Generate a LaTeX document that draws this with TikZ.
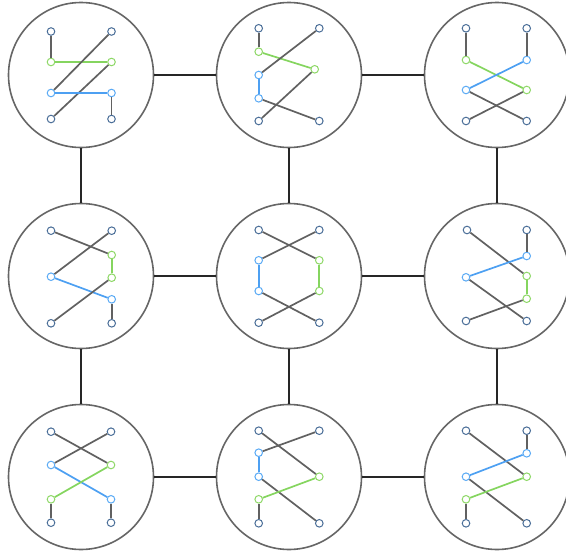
\documentclass[tikz,border=0pt]{standalone}
\begin{document}
\begin{tikzpicture}[x=1pt,y=-1pt,
  big/.style={circle,draw=black!60,line width=1.6pt,minimum size=145pt,inner sep=0pt},
  dk/.style={circle,draw=darkpt,fill=white,line width=1pt,minimum size=7.6pt,inner sep=0pt},
  gn/.style={circle,draw=greenpt,fill=white,line width=1pt,minimum size=7.6pt,inner sep=0pt},
  bl/.style={circle,draw=bluept,fill=white,line width=1pt,minimum size=7.6pt,inner sep=0pt},
  gl/.style={draw=black!62,line width=1.7pt},
  gline/.style={draw=greenln,line width=1.7pt},
  bline/.style={draw=blueln,line width=1.7pt},
  link/.style={draw=black!85,line width=1.5pt}]
\definecolor{darkpt}{HTML}{4A6E98}
\definecolor{greenpt}{HTML}{8ED867}
\definecolor{bluept}{HTML}{5AAAF5}
\definecolor{greenln}{HTML}{85D55F}
\definecolor{blueln}{HTML}{4DA0F2}
\useasboundingbox (0,0) rectangle (566,554);
\clip (0,0) rectangle (566,554);
% big circles
\node[big] (C11) at (81,75) {};
\node[big] (C12) at (289,75) {};
\node[big] (C13) at (497,75) {};
\node[big] (C21) at (81,276) {};
\node[big] (C22) at (289,276) {};
\node[big] (C23) at (497,276) {};
\node[big] (C31) at (81,477) {};
\node[big] (C32) at (289,477) {};
\node[big] (C33) at (497,477) {};
\draw[link] (C11) -- (C12);
\draw[link] (C12) -- (C13);
\draw[link] (C21) -- (C22);
\draw[link] (C22) -- (C23);
\draw[link] (C31) -- (C32);
\draw[link] (C32) -- (C33);
\draw[link] (C11) -- (C21);
\draw[link] (C21) -- (C31);
\draw[link] (C12) -- (C22);
\draw[link] (C22) -- (C32);
\draw[link] (C13) -- (C23);
\draw[link] (C23) -- (C33);
% circle 1
\node[dk] (a1) at (51,31.5) {};
\node[dk] (b1) at (111.5,31.5) {};
\node[gn] (c1) at (51,62) {};
\node[gn] (d1) at (111.5,62) {};
\node[bl] (e1) at (51,93) {};
\node[bl] (f1) at (111.5,93) {};
\node[dk] (g1) at (51,119) {};
\node[dk] (h1) at (111.5,119) {};
\draw[gl] (a1) -- (c1);
\draw[gline] (c1) -- (d1);
\draw[gl] (b1) -- (e1);
\draw[gl] (d1) -- (g1);
\draw[bline] (e1) -- (f1);
\draw[gl] (f1) -- (h1);
% circle 2
\node[dk] (a2) at (258.7,28.3) {};
\node[dk] (b2) at (319.3,28.3) {};
\node[gn] (c2) at (258.7,51.7) {};
\node[gn] (d2) at (314.7,69.3) {};
\node[bl] (e2) at (258.7,75) {};
\node[bl] (f2) at (258.7,98.3) {};
\node[dk] (g2) at (258.7,121) {};
\node[dk] (h2) at (319.3,121) {};
\draw[gl] (a2) -- (c2);
\draw[gline] (c2) -- (d2);
\draw[gl] (b2) -- (e2);
\draw[bline] (e2) -- (f2);
\draw[gl] (d2) -- (g2);
\draw[gl] (f2) -- (h2);
% circle 3
\node[dk] (a3) at (466,28.3) {};
\node[dk] (b3) at (526.7,28.3) {};
\node[gn] (c3) at (466,60) {};
\node[bl] (d3) at (526.7,60) {};
\node[bl] (e3) at (466,90) {};
\node[gn] (f3) at (526.7,90) {};
\node[dk] (g3) at (466,121) {};
\node[dk] (h3) at (526.7,121) {};
\draw[gl] (a3) -- (c3);
\draw[gl] (b3) -- (d3);
\draw[gline] (c3) -- (f3);
\draw[bline] (d3) -- (e3);
\draw[gl] (e3) -- (h3);
\draw[gl] (f3) -- (g3);
% circle 4
\node[dk] (a4) at (51,230.7) {};
\node[dk] (b4) at (111.7,230.7) {};
\node[gn] (c4) at (111.7,255) {};
\node[gn] (d4) at (111.7,277.7) {};
\node[bl] (e4) at (51,276.7) {};
\node[bl] (f4) at (111.7,299.3) {};
\node[dk] (g4) at (51,323.3) {};
\node[dk] (h4) at (111.7,323.3) {};
\draw[gl] (a4) -- (c4);
\draw[gline] (c4) -- (d4);
\draw[gl] (b4) -- (e4);
\draw[bline] (e4) -- (f4);
\draw[gl] (d4) -- (g4);
\draw[gl] (f4) -- (h4);
% circle 5
\node[dk] (a5) at (258.7,230) {};
\node[dk] (b5) at (319.3,230) {};
\node[bl] (c5) at (258.7,260.3) {};
\node[bl] (d5) at (258.7,291) {};
\node[gn] (e5) at (319.3,260.3) {};
\node[gn] (f5) at (319.3,291) {};
\node[dk] (g5) at (258.7,322.7) {};
\node[dk] (h5) at (319.3,322.7) {};
\draw[gl] (a5) -- (e5);
\draw[gl] (b5) -- (c5);
\draw[bline] (c5) -- (d5);
\draw[gline] (e5) -- (f5);
\draw[gl] (d5) -- (h5);
\draw[gl] (f5) -- (g5);
% circle 6
\node[dk] (a6) at (467,230) {};
\node[dk] (b6) at (526.7,230) {};
\node[bl] (c6) at (526.7,256) {};
\node[gn] (d6) at (526.7,276) {};
\node[bl] (e6) at (466,277.3) {};
\node[gn] (f6) at (526.7,298.7) {};
\node[dk] (g6) at (466,321) {};
\node[dk] (h6) at (526.7,321) {};
\draw[gl] (a6) -- (d6);
\draw[gl] (b6) -- (c6);
\draw[bline] (c6) -- (e6);
\draw[gline] (d6) -- (f6);
\draw[gl] (e6) -- (h6);
\draw[gl] (f6) -- (g6);
% circle 7
\node[dk] (a7) at (51,431.7) {};
\node[dk] (b7) at (111,431.7) {};
\node[bl] (c7) at (51,465) {};
\node[gn] (d7) at (111,465) {};
\node[gn] (e7) at (51,499.3) {};
\node[bl] (f7) at (111,499.3) {};
\node[dk] (g7) at (51,522.7) {};
\node[dk] (h7) at (111,522.7) {};
\draw[gl] (a7) -- (d7);
\draw[gl] (b7) -- (c7);
\draw[bline] (c7) -- (f7);
\draw[gline] (d7) -- (e7);
\draw[gl] (e7) -- (g7);
\draw[gl] (f7) -- (h7);
% circle 8
\node[dk] (a8) at (258.7,430.7) {};
\node[dk] (b8) at (319.3,430.7) {};
\node[bl] (c8) at (258.7,452.7) {};
\node[bl] (d8) at (258.7,476.7) {};
\node[gn] (e8) at (319.3,476.7) {};
\node[gn] (f8) at (258.7,499.3) {};
\node[dk] (g8) at (258.7,523.3) {};
\node[dk] (h8) at (319.3,523.3) {};
\draw[gl] (a8) -- (e8);
\draw[gl] (b8) -- (c8);
\draw[bline] (c8) -- (d8);
\draw[gl] (d8) -- (h8);
\draw[gline] (e8) -- (f8);
\draw[gl] (f8) -- (g8);
% circle 9
\node[dk] (a9) at (466,430.7) {};
\node[dk] (b9) at (526.7,430.7) {};
\node[bl] (c9) at (526.7,453.3) {};
\node[bl] (d9) at (466,476.7) {};
\node[gn] (e9) at (526.7,476.7) {};
\node[gn] (f9) at (466,499.3) {};
\node[dk] (g9) at (466,523.3) {};
\node[dk] (h9) at (526.7,523.3) {};
\draw[gl] (a9) -- (e9);
\draw[gl] (b9) -- (c9);
\draw[bline] (c9) -- (d9);
\draw[gl] (d9) -- (h9);
\draw[gline] (e9) -- (f9);
\draw[gl] (f9) -- (g9);
\end{tikzpicture}
\end{document}
